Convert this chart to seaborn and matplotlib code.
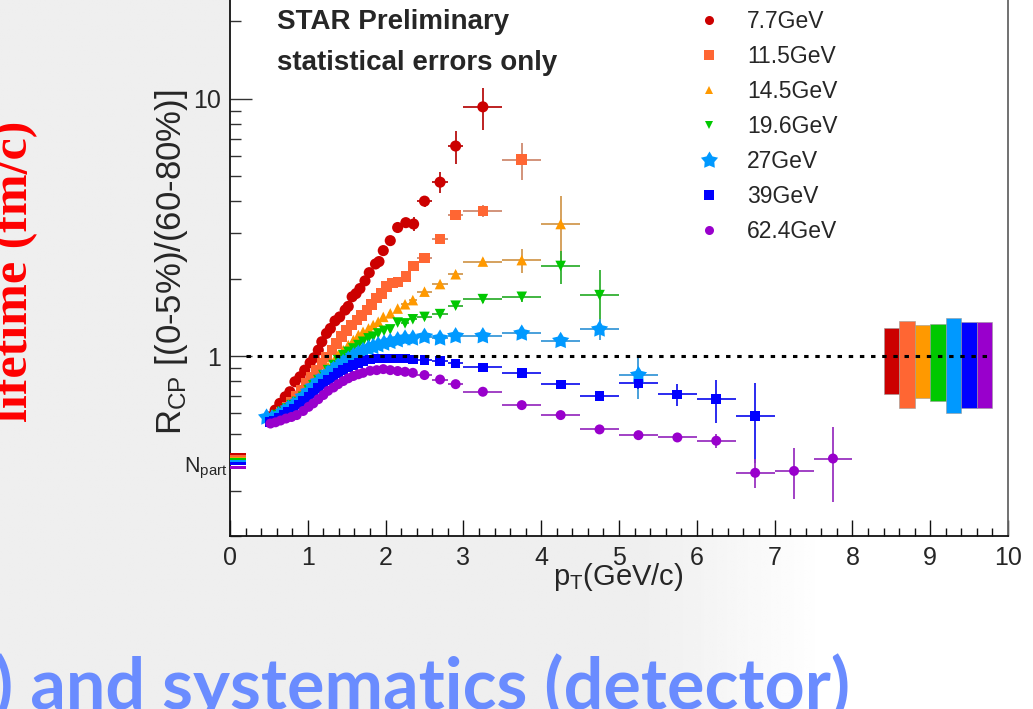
import numpy as np
import pandas as pd
import matplotlib
matplotlib.use("Agg")
import matplotlib.pyplot as plt
import seaborn as sns
from matplotlib.lines import Line2D
from matplotlib.path import Path
from matplotlib.ticker import FixedLocator, LogLocator, NullFormatter, MultipleLocator

# ---------------- data ----------------
energies = ["7.7GeV", "11.5GeV", "14.5GeV", "19.6GeV", "27GeV", "39GeV", "62.4GeV"]

pt_77 = [0.51, 0.58, 0.64, 0.71, 0.77, 0.835, 0.90, 0.96, 1.03, 1.08, 1.135, 1.18, 1.24, 1.29, 1.35, 1.41,
         1.48, 1.52, 1.57, 1.62, 1.67, 1.735, 1.79, 1.87, 1.915, 1.97, 2.06, 2.155, 2.26, 2.36, 2.50, 2.70,
         2.90, 3.25]
rcp_77 = [0.581, 0.617, 0.655, 0.695, 0.727, 0.795, 0.831, 0.882, 0.942, 0.985, 1.055, 1.137, 1.225, 1.28,
          1.37, 1.42, 1.51, 1.56, 1.70, 1.75, 1.83, 1.96, 2.11, 2.28, 2.33, 2.57, 2.81, 3.16, 3.30, 3.26, 4.0,
          4.74, 6.55, 9.3]
xerr_77 = [0.025, 0.025, 0.025, 0.025, 0.025, 0.025, 0.025, 0.025, 0.025, 0.025, 0.025, 0.025, 0.025, 0.025,
           0.025, 0.025, 0.025, 0.025, 0.025, 0.025, 0.025, 0.025, 0.025, 0.025, 0.025, 0.025, 0.025, 0.05,
           0.05, 0.05, 0.1, 0.1, 0.1, 0.25]
yerr_77 = [0.01, 0.01, 0.01, 0.01, 0.01, 0.01, 0.01, 0.01, 0.01, 0.01, 0.01, 0.01, 0.01, 0.01, 0.01, 0.01,
           0.01, 0.01, 0.01, 0.01, 0.02, 0.02, 0.03, 0.04, 0.04, 0.05, 0.06, 0.1, 0.15, 0.21, 0.2, 0.43,
           0.95, 1.75]

pt_115 = [0.536, 0.60, 0.665, 0.73, 0.793, 0.857, 0.92, 0.985, 1.05, 1.11, 1.18, 1.24, 1.31, 1.37, 1.435,
          1.50, 1.565, 1.63, 1.69, 1.76, 1.82, 1.885, 1.95, 2.01, 2.09, 2.16, 2.26, 2.36, 2.50, 2.70, 2.90,
          3.25, 3.75]
rcp_115 = [0.573, 0.59, 0.607, 0.635, 0.664, 0.695, 0.738, 0.783, 0.831, 0.882, 0.937, 0.994, 1.055, 1.12,
           1.19, 1.26, 1.32, 1.38, 1.44, 1.51, 1.59, 1.68, 1.75, 1.86, 1.92, 1.94, 2.04, 2.24, 2.41, 2.85,
           3.53, 3.66, 5.8]
xerr_115 = [0.025, 0.025, 0.025, 0.025, 0.025, 0.025, 0.025, 0.025, 0.025, 0.025, 0.025, 0.025, 0.025, 0.025,
            0.025, 0.025, 0.025, 0.025, 0.025, 0.025, 0.025, 0.025, 0.025, 0.025, 0.025, 0.025, 0.05, 0.05,
            0.1, 0.1, 0.1, 0.25, 0.25]
yerr_115 = [0.01, 0.01, 0.01, 0.01, 0.01, 0.01, 0.01, 0.01, 0.01, 0.01, 0.01, 0.01, 0.01, 0.01, 0.01, 0.01,
            0.01, 0.01, 0.01, 0.01, 0.02, 0.02, 0.03, 0.03, 0.04, 0.04, 0.05, 0.06, 0.08, 0.1, 0.12, 0.2,
            0.95]

pt_145 = [0.53, 0.60, 0.665, 0.73, 0.79, 0.857, 0.94, 1.01, 1.07, 1.135, 1.20, 1.26, 1.33, 1.39, 1.455, 1.52,
          1.585, 1.65, 1.71, 1.78, 1.84, 1.905, 1.97, 2.06, 2.155, 2.25, 2.35, 2.50, 2.70, 2.90, 3.25, 3.75,
          4.25]
rcp_145 = [0.565, 0.58, 0.598, 0.617, 0.635, 0.664, 0.695, 0.738, 0.771, 0.819, 0.857, 0.909, 0.95, 1.009,
           1.055, 1.104, 1.154, 1.207, 1.243, 1.28, 1.32, 1.36, 1.42, 1.466, 1.53, 1.59, 1.65, 1.78, 1.905,
           2.08, 2.33, 2.36, 3.26]
xerr_145 = [0.025, 0.025, 0.025, 0.025, 0.025, 0.025, 0.025, 0.025, 0.025, 0.025, 0.025, 0.025, 0.025, 0.025,
            0.025, 0.025, 0.025, 0.025, 0.025, 0.025, 0.025, 0.025, 0.025, 0.025, 0.025, 0.05, 0.05, 0.1,
            0.1, 0.1, 0.25, 0.25, 0.25]
yerr_145 = [0.01, 0.01, 0.01, 0.01, 0.01, 0.01, 0.01, 0.01, 0.01, 0.01, 0.01, 0.01, 0.01, 0.01, 0.01, 0.01,
            0.01, 0.01, 0.01, 0.01, 0.015, 0.015, 0.02, 0.02, 0.025, 0.03, 0.04, 0.05, 0.06, 0.07, 0.07, 0.25,
            0.93]

pt_196 = [0.53, 0.60, 0.665, 0.73, 0.79, 0.857, 0.94, 1.01, 1.07, 1.135, 1.20, 1.26, 1.33, 1.39, 1.455, 1.52,
          1.585, 1.65, 1.71, 1.78, 1.84, 1.905, 1.98, 2.06, 2.155, 2.25, 2.35, 2.50, 2.70, 2.90, 3.25, 3.75,
          4.25, 4.75]
rcp_196 = [0.57, 0.59, 0.607, 0.626, 0.645, 0.664, 0.695, 0.738, 0.771, 0.807, 0.844, 0.882, 0.923, 0.965,
           1.009, 1.039, 1.071, 1.104, 1.137, 1.172, 1.19, 1.225, 1.254, 1.27, 1.35, 1.34, 1.39, 1.42, 1.456,
           1.57, 1.665, 1.70, 2.24, 1.726]
xerr_196 = [0.025, 0.025, 0.025, 0.025, 0.025, 0.025, 0.025, 0.025, 0.025, 0.025, 0.025, 0.025, 0.025, 0.025,
            0.025, 0.025, 0.025, 0.025, 0.025, 0.025, 0.025, 0.025, 0.025, 0.025, 0.025, 0.05, 0.05, 0.1,
            0.1, 0.1, 0.25, 0.25, 0.25, 0.25]
yerr_196 = [0.01, 0.01, 0.01, 0.01, 0.01, 0.01, 0.01, 0.01, 0.01, 0.01, 0.01, 0.01, 0.01, 0.01, 0.01, 0.01,
            0.01, 0.01, 0.01, 0.01, 0.015, 0.015, 0.02, 0.02, 0.025, 0.03, 0.03, 0.04, 0.04, 0.05, 0.05, 0.08,
            0.33, 0.43]

pt_27 = [0.47, 0.54, 0.625, 0.69, 0.75, 0.815, 0.88, 0.94, 1.01, 1.07, 1.135, 1.20, 1.26, 1.33, 1.39, 1.455,
         1.52, 1.585, 1.65, 1.71, 1.78, 1.84, 1.905, 1.98, 2.06, 2.155, 2.25, 2.35, 2.50, 2.70, 2.90, 3.25,
         3.75, 4.25, 4.75, 5.25]
rcp_27 = [0.578, 0.573, 0.59, 0.607, 0.626, 0.645, 0.664, 0.695, 0.727, 0.76, 0.795, 0.824, 0.857, 0.887,
          0.914, 0.942, 0.971, 1.0, 1.024, 1.049, 1.071, 1.087, 1.104, 1.12, 1.137, 1.154, 1.172, 1.172, 1.19,
          1.172, 1.196, 1.196, 1.225, 1.147, 1.27, 0.844]
xerr_27 = [0.025, 0.025, 0.025, 0.025, 0.025, 0.025, 0.025, 0.025, 0.025, 0.025, 0.025, 0.025, 0.025, 0.025,
           0.025, 0.025, 0.025, 0.025, 0.025, 0.025, 0.025, 0.025, 0.025, 0.025, 0.025, 0.025, 0.05, 0.05,
           0.1, 0.1, 0.1, 0.25, 0.25, 0.25, 0.25, 0.25]
yerr_27 = [0.01, 0.01, 0.01, 0.01, 0.01, 0.01, 0.01, 0.01, 0.01, 0.01, 0.01, 0.01, 0.01, 0.01, 0.01, 0.01,
           0.01, 0.01, 0.01, 0.01, 0.015, 0.015, 0.015, 0.015, 0.015, 0.015, 0.02, 0.02, 0.02, 0.03, 0.03,
           0.03, 0.04, 0.05, 0.12, 0.16]

pt_39 = [0.51, 0.56, 0.625, 0.69, 0.75, 0.815, 0.88, 0.94, 1.01, 1.07, 1.135, 1.20, 1.26, 1.33, 1.39, 1.455,
         1.52, 1.585, 1.65, 1.71, 1.80, 1.885, 1.97, 2.06, 2.14, 2.25, 2.35, 2.50, 2.70, 2.90, 3.25, 3.75,
         4.25, 4.75, 5.25, 5.75, 6.25, 6.75]
rcp_39 = [0.555, 0.56, 0.573, 0.59, 0.607, 0.626, 0.648, 0.67, 0.695, 0.72, 0.75, 0.778, 0.807, 0.831,
          0.857, 0.882, 0.904, 0.923, 0.942, 0.96, 0.971, 0.98, 0.98, 0.98, 0.98, 0.98, 0.971, 0.965, 0.956,
          0.937, 0.904, 0.857, 0.776, 0.70, 0.783, 0.71, 0.681, 0.586]
xerr_39 = [0.025, 0.025, 0.025, 0.025, 0.025, 0.025, 0.025, 0.025, 0.025, 0.025, 0.025, 0.025, 0.025, 0.025,
           0.025, 0.025, 0.025, 0.025, 0.025, 0.025, 0.025, 0.025, 0.025, 0.025, 0.025, 0.05, 0.05, 0.1,
           0.1, 0.1, 0.25, 0.25, 0.25, 0.25, 0.25, 0.25, 0.25, 0.25]
yerr_39 = [0.01, 0.01, 0.01, 0.01, 0.01, 0.01, 0.01, 0.01, 0.01, 0.01, 0.01, 0.01, 0.01, 0.01, 0.01, 0.01,
           0.01, 0.01, 0.01, 0.01, 0.01, 0.01, 0.01, 0.01, 0.01, 0.01, 0.01, 0.01, 0.01, 0.015, 0.02, 0.02,
           0.025, 0.03, 0.04, 0.07, 0.13, 0.2]

pt_624 = [0.52, 0.585, 0.65, 0.72, 0.79, 0.857, 0.94, 1.01, 1.07, 1.135, 1.20, 1.26, 1.33, 1.39, 1.455, 1.52,
          1.585, 1.65, 1.71, 1.80, 1.885, 1.97, 2.06, 2.155, 2.25, 2.35, 2.50, 2.70, 2.90, 3.25, 3.75, 4.25,
          4.75, 5.25, 5.75, 6.25, 6.75, 7.25, 7.75]
rcp_624 = [0.547, 0.553, 0.562, 0.572, 0.58, 0.59, 0.612, 0.635, 0.655, 0.68, 0.706, 0.733, 0.755, 0.778,
           0.80, 0.82, 0.837, 0.85, 0.861, 0.877, 0.882, 0.89, 0.882, 0.875, 0.869, 0.861, 0.844, 0.811, 0.778,
           0.727, 0.645, 0.59, 0.519, 0.493, 0.483, 0.469, 0.352, 0.358, 0.40]
xerr_624 = [0.025, 0.025, 0.025, 0.025, 0.025, 0.025, 0.025, 0.025, 0.025, 0.025, 0.025, 0.025, 0.025, 0.025,
            0.025, 0.025, 0.025, 0.025, 0.025, 0.025, 0.025, 0.025, 0.025, 0.025, 0.05, 0.05, 0.1, 0.1, 0.1,
            0.25, 0.25, 0.25, 0.25, 0.25, 0.25, 0.25, 0.25, 0.25, 0.25]
yerr_624 = [0.01, 0.01, 0.01, 0.01, 0.01, 0.01, 0.01, 0.01, 0.01, 0.01, 0.01, 0.01, 0.01, 0.01, 0.01, 0.01,
            0.01, 0.01, 0.01, 0.01, 0.01, 0.01, 0.01, 0.01, 0.01, 0.01, 0.01, 0.012, 0.015, 0.015, 0.015, 0.015,
            0.015, 0.015, 0.02, 0.03, 0.045, 0.08, 0.13]

# systematic boxes (normalisation) at high pT and Npart bands at pT ~ 0
sys_center = [8.5, 8.7, 8.9, 9.1, 9.3, 9.5, 9.7]
sys_low = [0.710, 0.630, 0.688, 0.668, 0.599, 0.630, 0.630]
sys_high = [1.281, 1.364, 1.316, 1.328, 1.405, 1.359, 1.359]
npart_low = [0.412, 0.405, 0.400, 0.393, 0.387, 0.378, 0.364]
npart_high = [0.420, 0.413, 0.406, 0.401, 0.395, 0.388, 0.374]

x_ticks = [0, 1, 2, 3, 4, 5, 6, 7, 8, 9, 10]
y_ticks = [1, 10]
y_tick_labels = ["1", "10"]

# ---------------- styling ----------------
sns.set_theme(style="white")
plt.rcParams["font.family"] = ["Liberation Sans", "DejaVu Sans"]
plt.rcParams["mathtext.default"] = "regular"

W, H = 1033, 709
fig = plt.figure(figsize=(W / 100, H / 100), dpi=100)
fig.patch.set_facecolor("white")

# faded grey slide background (left and lower-left)
bg = fig.add_axes([0, 0, 1, 1], zorder=-10)
gx = np.linspace(0, 1, 400)
gy = np.linspace(0, 1, 300)
GX, GY = np.meshgrid(gx, gy)
fade = np.clip((GX - 0.62) / 0.18, 0, 1)
grey = 0.935 + (1 - 0.935) * fade
grey = np.where(GX < 0.223, 0.935, grey)
bg.imshow(grey, extent=[0, 1, 0, 1], cmap="gray", vmin=0, vmax=1, aspect="auto", origin="lower")
bg.axis("off")

# main axes (frame top lies above the picture, as in the reference)
x0, x1 = 230, 1008
ybot = 536
ymin, ymax = 0.2, 30.0
dec = 257.3
ytop = 356 - dec * np.log10(ymax)
ax = fig.add_axes([x0 / W, (H - ybot) / H, (x1 - x0) / W, (ybot - ytop) / H])
ax.set_facecolor("white")
ax.set_yscale("log")
ax.set_xlim(0, 10)
ax.set_ylim(ymin, ymax)

# star marker like ROOT's fat star
ang = np.pi / 2 + np.arange(10) * np.pi / 5
rad = np.where(np.arange(10) % 2 == 0, 1.0, 0.56)
star_path = Path(np.column_stack([rad * np.cos(ang), rad * np.sin(ang)]).tolist() + [[0, 1]],
                 [Path.MOVETO] + [Path.LINETO] * 9 + [Path.CLOSEPOLY])

series = [
    (pt_77, rcp_77, xerr_77, yerr_77),
    (pt_115, rcp_115, xerr_115, yerr_115),
    (pt_145, rcp_145, xerr_145, yerr_145),
    (pt_196, rcp_196, xerr_196, yerr_196),
    (pt_27, rcp_27, xerr_27, yerr_27),
    (pt_39, rcp_39, xerr_39, yerr_39),
    (pt_624, rcp_624, xerr_624, yerr_624),
]
colors = ["#cc0000", "#ff6633", "#ff9900", "#00c800", "#0099ff", "#0000ff", "#9900cc"]
ecolors = ["#b81010", "#cf8a70", "#d29a50", "#33b033", "#3a98d8", "#1a1aee", "#9a33c0"]
markers = ["o", "s", "^", "v", star_path, "s", "o"]
msizes = [8.0, 7.6, 7.6, 7.6, 13.0, 7.0, 7.2]
leg_sizes = [6.5, 6.8, 6.0, 6.0, 13.0, 6.8, 6.5]

frames = []
for name, (p, r, xe, ye) in zip(energies, series):
    frames.append(pd.DataFrame({"pt": p, "rcp": r, "xerr": xe, "yerr": ye, "energy": name}))
df = pd.concat(frames, ignore_index=True)

for i, name in enumerate(energies):
    d = df[df["energy"] == name]
    ax.errorbar(d["pt"], d["rcp"], xerr=d["xerr"], yerr=d["yerr"], fmt="none",
                ecolor=ecolors[i], elinewidth=1.3, capsize=0, zorder=2 + i * 0.1)
    sns.scatterplot(data=d, x="pt", y="rcp", ax=ax, marker=markers[i], s=msizes[i] ** 2,
                    color=colors[i], linewidth=0, edgecolor="none", legend=False, zorder=3 + i * 0.1)

# systematic boxes
ax.bar(sys_center, np.array(sys_high) - np.array(sys_low), bottom=sys_low, width=0.2,
       color=colors, edgecolor="#999999", linewidth=0.4, zorder=4)
# Npart bands
ax.bar([0.1] * 7, np.array(npart_high) - np.array(npart_low), bottom=npart_low, width=0.2,
       color=colors, linewidth=0, zorder=4)

ax.hlines(1, 0.2, 9.8, colors="black", linestyles=(0, (1.45, 2.2)), linewidth=2.2, zorder=10)

# axes styling
ax.set_xlabel("")
ax.set_ylabel("")
for s in ["left", "bottom"]:
    ax.spines[s].set_color("#111111")
    ax.spines[s].set_linewidth(1.3)
ax.spines["right"].set_color("#666666")
ax.spines["right"].set_linewidth(1.3)
ax.spines["top"].set_visible(False)

ax.xaxis.set_major_locator(FixedLocator(x_ticks))
ax.xaxis.set_minor_locator(MultipleLocator(0.2))
ax.set_xticklabels([str(t) for t in x_ticks])
ax.yaxis.set_major_locator(FixedLocator(y_ticks))
ax.set_yticklabels(y_tick_labels)
ax.yaxis.set_minor_locator(LogLocator(base=10, subs=np.arange(2, 10) * 1.0))
ax.yaxis.set_minor_formatter(NullFormatter())

ax.tick_params(axis="x", which="major", direction="in", length=11.5, width=1.0, color="#111111",
               labelsize=18, pad=7, bottom=True, top=False)
ax.tick_params(axis="x", which="minor", direction="in", length=5.8, width=1.0, color="#111111",
               bottom=True, top=False)
ax.tick_params(axis="y", which="major", direction="in", length=16, width=1.0, color="#333333",
               labelsize=18, pad=6.5, left=True, right=False)
ax.tick_params(axis="y", which="minor", direction="in", length=8, width=1.0, color="#333333",
               left=True, right=False)

# legend
handles = [Line2D([], [], marker=markers[i], color=colors[i], linestyle="none",
                  markersize=leg_sizes[i], markeredgewidth=0) for i in range(7)]
ax.legend(handles, energies, loc="upper left", bbox_to_anchor=(698 / W, 1 - 10 / H),
          bbox_transform=fig.transFigure, frameon=False, fontsize=16.5, handlelength=1.0,
          handletextpad=1.15, labelspacing=0.525, borderpad=0, borderaxespad=0)

# texts
fig.text(277 / W, 1 - 29 / H, "STAR Preliminary", fontsize=20, fontweight="bold", va="baseline", ha="left")
fig.text(277 / W, 1 - 70 / H, "statistical errors only", fontsize=20, fontweight="bold",
         va="baseline", ha="left")
fig.text(171 / W, 1 - 262.5 / H, "R$_{CP}$ [(0-5%)/(60-80%)]", fontsize=25, rotation=90,
         ha="center", va="center")
fig.text(618 / W, 1 - 577 / H, "p$_{T}$(GeV/c)", fontsize=21, ha="center", va="center")
fig.text(228 / W, 1 - 468 / H, "N$_{part}$", fontsize=15.5, ha="right", va="center")

fig.text(27 / W, 1 - 121 / H, "lifetime (fm/c)", rotation=90, rotation_mode="anchor", ha="right",
         va="baseline", family=["Liberation Serif", "DejaVu Serif"], fontweight="bold", fontsize=36,
         color="#ff0000")
fig.text(-6 / W, 0.0, ") and systematics (detector)", family=["Lato", "DejaVu Sans"], fontweight="bold",
         fontsize=50.5, color="#6a8cff", ha="left", va="baseline")

fig.savefig("out.png", dpi=100, facecolor=fig.get_facecolor())
